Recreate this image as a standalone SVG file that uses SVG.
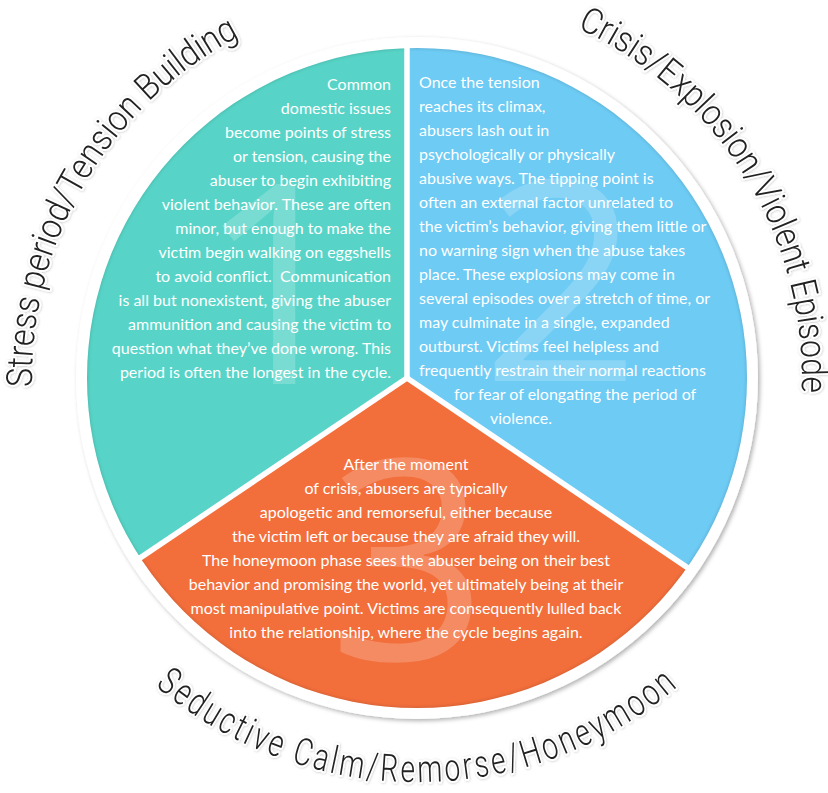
<svg xmlns="http://www.w3.org/2000/svg" width="828" height="793" viewBox="0 0 828 793">
  <style>
    .body { font-family: "Lato", "Liberation Sans", sans-serif; font-size: 16px; fill: #ffffff; }
    .num { font-family: "Open Sans", "Liberation Sans", sans-serif; font-size: 280px; fill: #ffffff; fill-opacity: 0.2; text-anchor: middle; }
    .title { font-family: "Roboto", "Liberation Sans", sans-serif; font-weight: 300; font-size: 36px; fill: #222222; stroke: #ffffff; stroke-width: 4px; stroke-linejoin: round; paint-order: stroke; filter: url(#halo); }
    .divider { stroke: #ffffff; stroke-width: 5.5; fill: none; stroke-linecap: butt; }
  </style>
  <defs>
    <filter id="ringShadow" x="-10%" y="-10%" width="120%" height="120%">
      <feDropShadow dx="2" dy="2" stdDeviation="2" flood-color="#000000" flood-opacity="0.3"/>
    </filter>
    <filter id="halo" x="-10%" y="-10%" width="120%" height="120%">
      <feDropShadow dx="0.5" dy="0.5" stdDeviation="1.2" flood-color="#000000" flood-opacity="0.22"/>
    </filter>
    <filter id="innerBlur" x="-5%" y="-5%" width="110%" height="110%">
      <feGaussianBlur stdDeviation="1.5"/>
    </filter>
    <clipPath id="pieClip">
      <circle cx="417" cy="378" r="330"/>
    </clipPath>
    <path id="arc1" d="M119.5,622.4 A385,385 0 0 1 487.8,-0.4"/>
    <path id="arc2" d="M339.6,0.9 A385,385 0 0 1 718.7,617.1"/>
    <path id="arc3" d="M37.6,516.9 A404,404 0 0 0 796.9,515.5"/>
  </defs>

  <rect width="828" height="793" fill="#ffffff"/>

  <g id="ring">
    <circle cx="417" cy="378" r="341" fill="#ffffff" filter="url(#ringShadow)"/>
  </g>

  <g clip-path="url(#pieClip)">
    <g id="stage1">
      <polygon points="0,0 407,0 407,378 0,652" fill="#57d4c7"/>
      <text class="num" x="277" y="384">1</text>
    </g>
    <g id="stage2">
      <polygon points="407,0 828,0 828,663 407,378" fill="#6dcbf4"/>
      <text class="num" x="561" y="381">2</text>
    </g>
    <g id="stage3">
      <polygon points="0,652 407,378 828,663 828,793 0,793" fill="#f26e3b"/>
      <text class="num" x="408" y="660">3</text>
    </g>
    <circle cx="417" cy="378" r="331" fill="none" stroke="#000000" stroke-opacity="0.12" stroke-width="4" filter="url(#innerBlur)"/>
  </g>

  <g id="connectors">
    <line class="divider" x1="407" y1="40" x2="407" y2="378"/>
    <line class="divider" x1="407" y1="378" x2="135" y2="561.4"/>
    <line class="divider" x1="407" y1="378" x2="693" y2="571.4"/>
  </g>

  <g id="text1" class="body" text-anchor="end">
    <text x="391" y="90">Common</text>
    <text x="391" y="114">domestic issues</text>
    <text x="391" y="138">become points of stress</text>
    <text x="391" y="162">or tension, causing the</text>
    <text x="391" y="186">abuser to begin exhibiting</text>
    <text x="391" y="210">violent behavior. These are often</text>
    <text x="391" y="234">minor, but enough to make the</text>
    <text x="391" y="258">victim begin walking on eggshells</text>
    <text x="391" y="282">to avoid conflict.&#160; Communication</text>
    <text x="391" y="306">is all but nonexistent, giving the abuser</text>
    <text x="391" y="330">ammunition and causing the victim to</text>
    <text x="391" y="354">question what they’ve done wrong. This</text>
    <text x="391" y="378">period is often the longest in the cycle.</text>
  </g>

  <g id="text2" class="body">
    <text x="419" y="88">Once the tension</text>
    <text x="419" y="112">reaches its climax,</text>
    <text x="419" y="136">abusers lash out in</text>
    <text x="419" y="160">psychologically or physically</text>
    <text x="419" y="184">abusive ways. The tipping point is</text>
    <text x="419" y="208">often an external factor unrelated to</text>
    <text x="419" y="232">the victim’s behavior, giving them little or</text>
    <text x="419" y="256">no warning sign when the abuse takes</text>
    <text x="419" y="280">place. These explosions may come in</text>
    <text x="419" y="304">several episodes over a stretch of time, or</text>
    <text x="419" y="328">may culminate in a single, expanded</text>
    <text x="419" y="352">outburst. Victims feel helpless and</text>
    <text x="419" y="376">frequently restrain their normal reactions</text>
    <text x="454" y="400">for fear of elongating the period of</text>
    <text x="490" y="424">violence.</text>
  </g>

  <g id="text3" class="body" text-anchor="middle">
    <text x="406" y="470">After the moment</text>
    <text x="406" y="494">of crisis, abusers are typically</text>
    <text x="406" y="518">apologetic and remorseful, either because</text>
    <text x="406" y="542">the victim left or because they are afraid they will.</text>
    <text x="406" y="566">The honeymoon phase sees the abuser being on their best</text>
    <text x="406" y="590">behavior and promising the world, yet ultimately being at their</text>
    <text x="406" y="614">most manipulative point. Victims are consequently lulled back</text>
    <text x="406" y="638">into the relationship, where the cycle begins again.</text>
  </g>

  <g id="titles">
    <text id="title1" class="title" text-anchor="middle" textLength="429" lengthAdjust="spacingAndGlyphs"><textPath href="#arc1" startOffset="50%">Stress period/Tension Building</textPath></text>
    <text id="title2" class="title" text-anchor="middle" textLength="454" lengthAdjust="spacingAndGlyphs"><textPath href="#arc2" startOffset="50%">Crisis/Explosion/Violent Episode</textPath></text>
    <text id="title3" class="title" text-anchor="middle" textLength="571" lengthAdjust="spacingAndGlyphs" letter-spacing="4" style="font-size:38px"><textPath href="#arc3" startOffset="50%">Seductive Calm/Remorse/Honeymoon</textPath></text>
  </g>
</svg>
